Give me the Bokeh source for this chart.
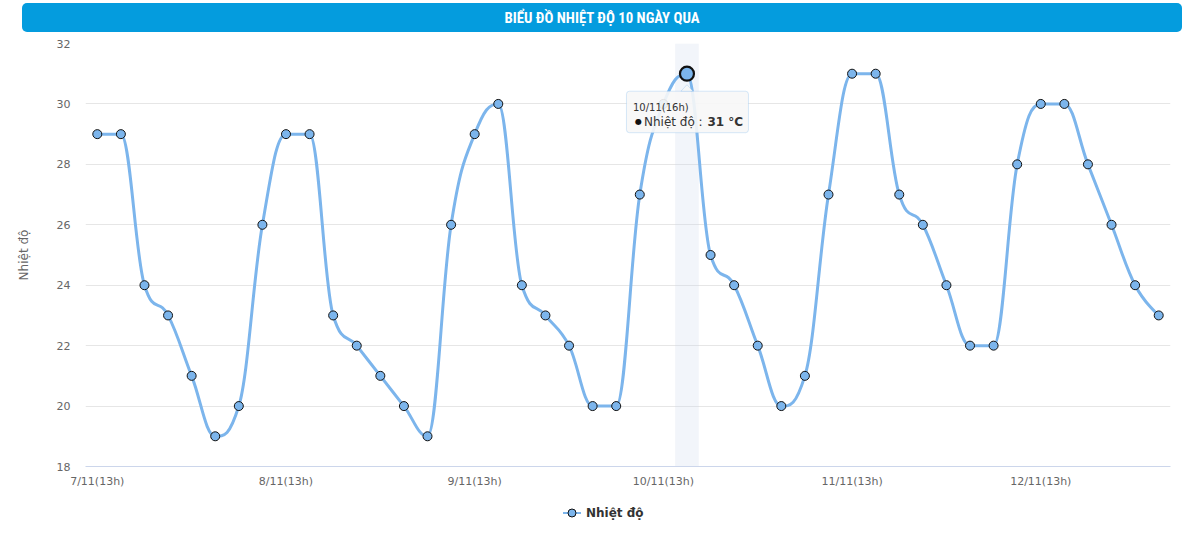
import numpy as np
from bokeh.plotting import figure
from bokeh.models import (Range1d, FixedTicker, BoxAnnotation, PolyAnnotation, Label, Div)
from bokeh.layouts import column
from bokeh.embed import file_html
from bokeh.resources import INLINE

# ---------------- data ----------------
title_text = "BIỂU ĐỒ NHIỆT ĐỘ 10 NGÀY QUA"
series_name = "Nhiệt độ"
y_title = "Nhiệt độ"
unit = "°C"

categories = [
    "7/11(13h)", "7/11(16h)", "7/11(19h)", "7/11(22h)", "8/11(1h)", "8/11(4h)", "8/11(7h)", "8/11(10h)",
    "8/11(13h)", "8/11(16h)", "8/11(19h)", "8/11(22h)", "9/11(1h)", "9/11(4h)", "9/11(7h)", "9/11(10h)",
    "9/11(13h)", "9/11(16h)", "9/11(19h)", "9/11(22h)", "10/11(1h)", "10/11(4h)", "10/11(7h)", "10/11(10h)",
    "10/11(13h)", "10/11(16h)", "10/11(19h)", "10/11(22h)", "11/11(1h)", "11/11(4h)", "11/11(7h)", "11/11(10h)",
    "11/11(13h)", "11/11(16h)", "11/11(19h)", "11/11(22h)", "12/11(1h)", "12/11(4h)", "12/11(7h)", "12/11(10h)",
    "12/11(13h)", "12/11(16h)", "12/11(19h)", "12/11(22h)", "13/11(1h)", "13/11(4h)",
]
temps = [29, 29, 24, 23, 21, 19, 20, 26,
         29, 29, 23, 22, 21, 20, 19, 26,
         29, 30, 24, 23, 22, 20, 20, 27,
         30, 31, 25, 24, 22, 20, 21, 27,
         31, 31, 27, 26, 24, 22, 22, 28,
         30, 30, 28, 26, 24, 23]
y_ticks = [18, 20, 22, 24, 26, 28, 30, 32]
hover_index = 25

# ---------------- spline (Highcharts-like control points) ----------------
xs = np.arange(len(temps), dtype=float)
ys = np.array(temps, dtype=float)


def spline_controls(px_, py_, smoothing=1.5):
    n = len(px_)
    denom = smoothing + 1
    lx, ly = px_.copy(), py_.copy()
    rx, ry = px_.copy(), py_.copy()
    for i in range(1, n - 1):
        px, py = px_[i], py_[i]
        ax, ay = px_[i - 1], py_[i - 1]
        bx, by = px_[i + 1], py_[i + 1]
        lcx = (smoothing * px + ax) / denom
        lcy = (smoothing * py + ay) / denom
        rcx = (smoothing * px + bx) / denom
        rcy = (smoothing * py + by) / denom
        corr = 0.0
        if rcx != lcx:
            corr = ((rcy - lcy) * (rcx - px)) / (rcx - lcx) + py - rcy
        lcy += corr
        rcy += corr
        if lcy > ay and lcy > py:
            lcy = max(ay, py); rcy = 2 * py - lcy
        elif lcy < ay and lcy < py:
            lcy = min(ay, py); rcy = 2 * py - lcy
        if rcy > by and rcy > py:
            rcy = max(by, py); lcy = 2 * py - rcy
        elif rcy < by and rcy < py:
            rcy = min(by, py); lcy = 2 * py - rcy
        lx[i], ly[i], rx[i], ry[i] = lcx, lcy, rcx, rcy
    return lx, ly, rx, ry


lx, ly, rx, ry = spline_controls(xs, ys)

# ---------------- figure ----------------
LINE = "#7cb5ec"
TXT = "#666666"
FONT = "DejaVu Sans"
FW, FH = 1085, 423
BL, BR = 85, 20

p = figure(frame_width=FW, frame_height=FH,
           x_range=Range1d(-0.5, len(temps) - 0.5), y_range=Range1d(y_ticks[0], y_ticks[-1]),
           output_backend="svg", toolbar_location=None,
           min_border_left=BL, min_border_right=BR, min_border_top=11, min_border_bottom=24)
p.outline_line_color = None
p.background_fill_color = "white"
p.border_fill_color = "white"

# crosshair band (hovered category)
p.add_layout(BoxAnnotation(left=hover_index - 0.5, right=hover_index + 0.5,
                           fill_color="#ccd6eb", fill_alpha=0.25, line_color=None, level="underlay"))

p.bezier(x0=xs[:-1], y0=ys[:-1], x1=xs[1:], y1=ys[1:],
         cx0=rx[:-1], cy0=ry[:-1], cx1=lx[1:], cy1=ly[1:],
         line_color=LINE, line_width=3, line_cap="round")
p.scatter(xs, ys, size=9, fill_color=LINE, line_color="#111111", line_width=1)
p.scatter([xs[hover_index]], [ys[hover_index]], size=14, fill_color=LINE,
          line_color="#111111", line_width=2.2)

# axes
p.xaxis.ticker = FixedTicker(ticks=[0, 8, 16, 24, 32, 40])
p.xaxis.major_label_overrides = {i: categories[i] for i in [0, 8, 16, 24, 32, 40]}
p.xaxis.axis_line_color = "#ccd6eb"
p.xaxis.major_tick_line_color = None
p.xaxis.minor_tick_line_color = None
p.xaxis.major_tick_out = 0
p.xaxis.major_tick_in = 0
p.xaxis.major_label_standoff = 8
p.xaxis.major_label_text_color = TXT
p.xaxis.major_label_text_font = FONT
p.xaxis.major_label_text_font_size = "11px"

p.yaxis.ticker = FixedTicker(ticks=y_ticks)
p.yaxis.axis_line_color = None
p.yaxis.major_tick_line_color = None
p.yaxis.minor_tick_line_color = None
p.yaxis.major_tick_out = 0
p.yaxis.major_tick_in = 0
p.yaxis.major_label_standoff = 15
p.yaxis.major_label_text_color = TXT
p.yaxis.major_label_text_font = FONT
p.yaxis.major_label_text_font_size = "11px"
p.yaxis.axis_label = y_title
p.yaxis.axis_label_text_font = FONT
p.yaxis.axis_label_text_font_style = "normal"
p.yaxis.axis_label_text_font_size = "12px"
p.yaxis.axis_label_text_color = TXT
p.yaxis.axis_label_standoff = 23

p.xgrid.grid_line_color = None
p.ygrid.grid_line_color = "#e6e6e6"
p.ygrid.grid_line_width = 1

# tooltip (hovered point)
sx = FW / len(temps)
sy = FH / (y_ticks[-1] - y_ticks[0])
hx, hy = xs[hover_index], ys[hover_index]


def dx(px):
    return hx + px / sx


def dy(py):
    return hy - py / sy


p.add_layout(BoxAnnotation(left=dx(-60.5), right=dx(61.5), top=dy(17.5), bottom=dy(59),
                           fill_color="#f7f7f7", fill_alpha=0.9, line_color=LINE, line_width=1,
                           border_radius=3))
p.add_layout(PolyAnnotation(xs=[dx(-6), dx(0), dx(6)], ys=[dy(17.5), dy(11), dy(17.5)],
                            fill_color="#f7f7f7", fill_alpha=1, line_color=LINE, line_width=1))
p.add_layout(Label(x=dx(-54), y=dy(33.5), text=categories[hover_index], text_font=FONT,
                   text_font_size="10px", text_color="#333333", text_baseline="middle"))
p.add_layout(Label(x=dx(-52), y=dy(48), text="●", text_font=FONT,
                   text_font_size="8px", text_color="#111111", text_baseline="middle"))
p.add_layout(Label(x=dx(-43), y=dy(48), text=series_name + " : ", text_font=FONT,
                   text_font_size="12px", text_color="#333333", text_baseline="middle"))
p.add_layout(Label(x=dx(20.5), y=dy(48), text=f"{temps[hover_index]} {unit}", text_font=FONT,
                   text_font_size="12px", text_font_style="bold", text_color="#333333",
                   text_baseline="middle"))

# ---------------- legend strip under the chart (HTML) ----------------
LW, LH = BL + FW + BR, 53
legend_div = Div(
    text=(f'<div style="position:relative;width:{LW}px;height:{LH}px;">'
          '<svg style="position:absolute;left:563px;top:17px" width="18" height="12">'
          f'<line x1="0" y1="6" x2="18" y2="6" stroke="{LINE}" stroke-width="2"/>'
          f'<circle cx="9" cy="6" r="4" fill="{LINE}" stroke="#111111" stroke-width="1"/></svg>'
          '<span style="position:absolute;left:586px;top:15px;line-height:16px;'
          f"font-family:'DejaVu Sans';font-weight:bold;font-size:12px;color:#333333;white-space:nowrap;\">"
          f'{series_name}</span></div>'),
    width=LW, height=LH, margin=(0, 0, 0, 0))

title_div = Div(
    text=('<div style="width:1160px;height:29px;line-height:30px;background:#049cde;'
          'border-radius:5px;color:#ffffff;text-align:center;font-weight:bold;font-size:14.8px;'
          "font-family:'Liberation Sans Narrow','Roboto Condensed',Roboto,sans-serif;\">"
          + title_text + '</div>'),
    width=1160, height=29, margin=(3, 0, 0, 22))

layout = column(title_div, p, legend_div, spacing=0)
open("out.html", "w").write(file_html(layout, INLINE))
